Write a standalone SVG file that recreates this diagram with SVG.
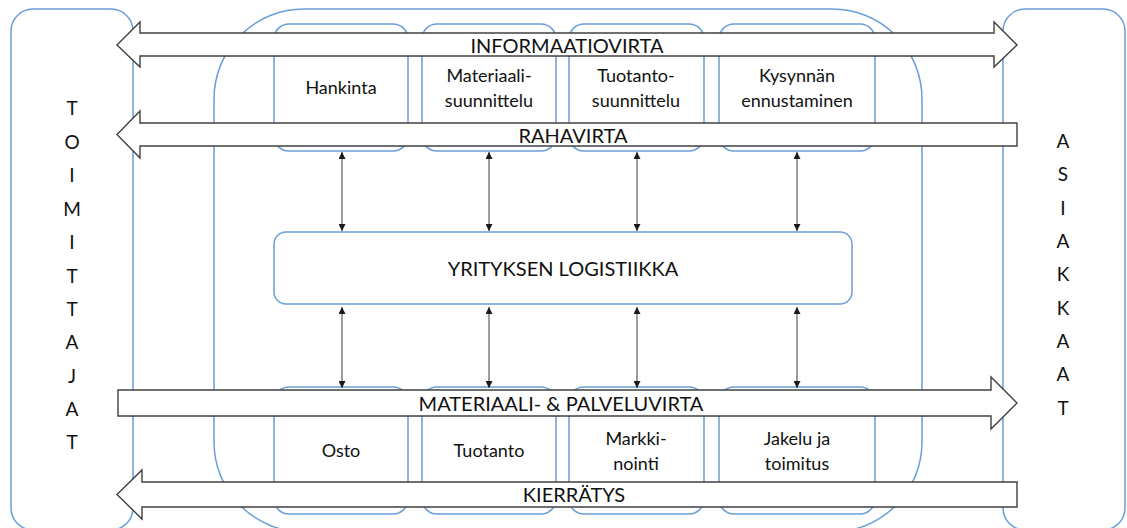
<svg xmlns="http://www.w3.org/2000/svg" width="1127" height="528" viewBox="0 0 1127 528">
  <style>
    .frame { fill: #ffffff; stroke: #6a9fd8; stroke-width: 1.5; }
    .flow { fill: #ffffff; stroke: #404040; stroke-width: 1.4; stroke-linejoin: miter; }
    .link { fill: none; stroke: #3a3a3a; stroke-width: 1; marker-start: url(#tip); marker-end: url(#tip); }
    text { font-family: Lato, "Open Sans", "Liberation Sans", sans-serif; fill: #111111; text-anchor: middle; }
    .lbl { font-size: 18px; }
    .flowtxt { font-size: 20px; }
    .side { font-size: 19px; }
  </style>
  <defs>
    <marker id="tip" viewBox="0 0 10 10" refX="10" refY="5" markerWidth="7" markerHeight="7" markerUnits="userSpaceOnUse" orient="auto-start-reverse">
      <path d="M0,0 L10,5 L0,10 z" fill="#1a1a1a"/>
    </marker>
  </defs>

  <!-- Suppliers (left) and customers (right) columns -->
  <g id="toimittajat">
    <rect class="frame" x="11" y="9" width="122" height="521" rx="22"/>
    <text class="side" x="72" y="115">T</text>
    <text class="side" x="72" y="149">O</text>
    <text class="side" x="72" y="182">I</text>
    <text class="side" x="72" y="216">M</text>
    <text class="side" x="72" y="249">I</text>
    <text class="side" x="72" y="283">T</text>
    <text class="side" x="72" y="316">T</text>
    <text class="side" x="72" y="349">A</text>
    <text class="side" x="72" y="383">J</text>
    <text class="side" x="72" y="416">A</text>
    <text class="side" x="72" y="449">T</text>
  </g>
  <g id="asiakkaat">
    <rect class="frame" x="1003" y="9" width="122" height="521" rx="22"/>
    <text class="side" x="1063" y="148">A</text>
    <text class="side" x="1063" y="181">S</text>
    <text class="side" x="1063" y="215">I</text>
    <text class="side" x="1063" y="248">A</text>
    <text class="side" x="1063" y="281">K</text>
    <text class="side" x="1063" y="315">K</text>
    <text class="side" x="1063" y="348">A</text>
    <text class="side" x="1063" y="381">A</text>
    <text class="side" x="1063" y="415">T</text>
  </g>

  <!-- Company boundary -->
  <g id="yritys">
    <rect class="frame" x="214" y="9" width="708" height="523" rx="90"/>
  </g>

  <!-- Planning functions (top row) -->
  <g id="hankinta">
    <rect class="frame" x="274" y="24" width="134" height="127" rx="15"/>
    <text class="lbl" x="341" y="94">Hankinta</text>
  </g>
  <g id="materiaalisuunnittelu">
    <rect class="frame" x="422" y="24" width="134" height="127" rx="15"/>
    <text class="lbl" x="489" y="82">Materiaali-</text>
    <text class="lbl" x="489" y="107">suunnittelu</text>
  </g>
  <g id="tuotantosuunnittelu">
    <rect class="frame" x="569" y="24" width="135" height="127" rx="15"/>
    <text class="lbl" x="636" y="82">Tuotanto-</text>
    <text class="lbl" x="636" y="107">suunnittelu</text>
  </g>
  <g id="kysynnan-ennustaminen">
    <rect class="frame" x="719" y="24" width="156" height="127" rx="15"/>
    <text class="lbl" x="797" y="82">Kysynnän</text>
    <text class="lbl" x="797" y="107">ennustaminen</text>
  </g>

  <!-- Operational functions (bottom row) -->
  <g id="osto">
    <rect class="frame" x="274" y="387" width="134" height="127" rx="15"/>
    <text class="lbl" x="341" y="457">Osto</text>
  </g>
  <g id="tuotanto">
    <rect class="frame" x="422" y="387" width="134" height="127" rx="15"/>
    <text class="lbl" x="489" y="457">Tuotanto</text>
  </g>
  <g id="markkinointi">
    <rect class="frame" x="569" y="387" width="135" height="127" rx="15"/>
    <text class="lbl" x="636" y="445">Markki-</text>
    <text class="lbl" x="636" y="470">nointi</text>
  </g>
  <g id="jakelu-toimitus">
    <rect class="frame" x="719" y="387" width="156" height="127" rx="15"/>
    <text class="lbl" x="797" y="445">Jakelu ja</text>
    <text class="lbl" x="797" y="470">toimitus</text>
  </g>

  <!-- Central logistics -->
  <g id="logistiikka">
    <rect class="frame" x="274" y="232" width="578" height="72" rx="12"/>
    <text class="flowtxt" x="563" y="276">YRITYKSEN LOGISTIIKKA</text>
  </g>

  <!-- Flows and links -->
  <g id="connectors">
    <polygon class="flow" points="117,45 140,22 140,33 994,33 994,22 1017,45 994,67 994,56 140,56 140,67"/>
    <text class="flowtxt" x="567" y="53">INFORMAATIOVIRTA</text>

    <polygon class="flow" points="117,134.5 140,111 140,123 1017,123 1017,146 140,146 140,158"/>
    <text class="flowtxt" x="573" y="143">RAHAVIRTA</text>

    <polygon class="flow" points="118,390 991,390 991,377 1017,403 991,429 991,416 118,416"/>
    <text class="flowtxt" x="561" y="411">MATERIAALI- &amp; PALVELUVIRTA</text>

    <polygon class="flow" points="117,494.5 142,470 142,482 1017,482 1017,507 142,507 142,519"/>
    <text class="flowtxt" x="574" y="502">KIERRÄTYS</text>

    <line class="link" x1="342" y1="152" x2="342" y2="231"/>
    <line class="link" x1="489" y1="152" x2="489" y2="231"/>
    <line class="link" x1="637" y1="152" x2="637" y2="231"/>
    <line class="link" x1="797" y1="152" x2="797" y2="231"/>

    <line class="link" x1="342" y1="307" x2="342" y2="388"/>
    <line class="link" x1="489" y1="307" x2="489" y2="388"/>
    <line class="link" x1="637" y1="307" x2="637" y2="388"/>
    <line class="link" x1="797" y1="307" x2="797" y2="388"/>
  </g>
</svg>
